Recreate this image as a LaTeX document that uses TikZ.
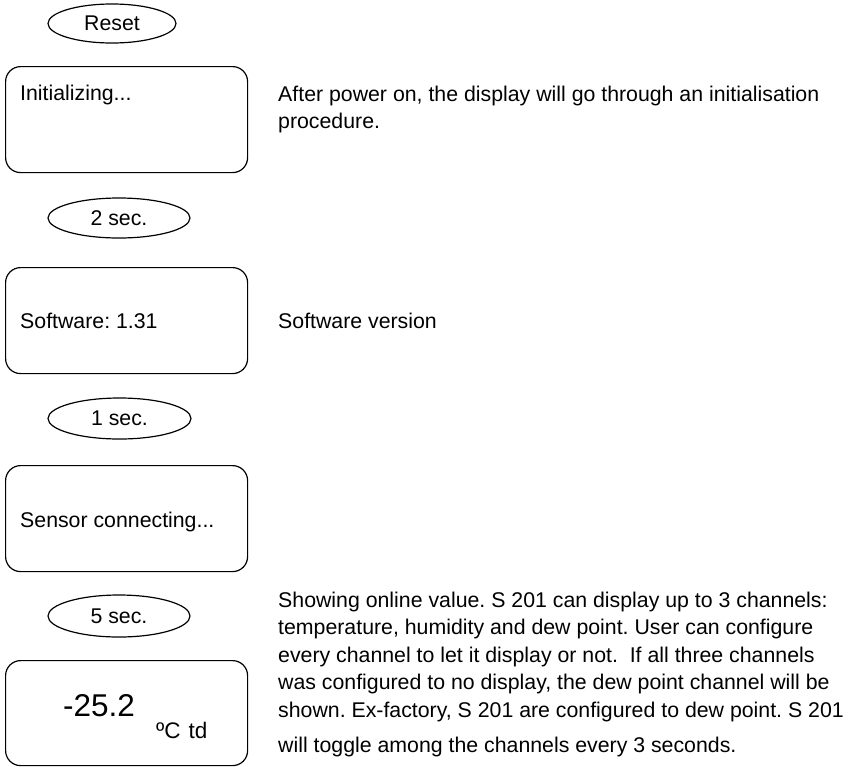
\documentclass[tikz,border=0pt]{standalone}
\usepackage{fontspec}
\setmainfont{Liberation Sans}
\usetikzlibrary{shapes.geometric}
\frenchspacing
\begin{document}
\begin{tikzpicture}[x=1pt,y=-1pt,
  every node/.style={font=\fontsize{21.3pt}{27.5pt}\selectfont\frenchspacing, inner sep=0pt},
  screen/.style={draw, line width=1.2pt, rounded corners=15pt, minimum width=242pt, minimum height=106pt, anchor=north west},
  timer/.style={draw, ellipse, line width=1.2pt, minimum width=142pt, minimum height=40pt},
  lbl/.style={anchor=base west},
  desc/.style={anchor=base west, align=left}]
\useasboundingbox (0,0) rectangle (856,766);

% timer ellipses
\node[timer, minimum width=128pt, minimum height=39pt] (reset) at (112,23.5) {Reset};
\node[timer] (t2) at (119,218) {2 sec.};
\node[timer, minimum width=143pt, minimum height=41pt] (t1) at (119.5,418.5) {1 sec.};
\node[timer, minimum height=42pt] (t5) at (119,616) {5 sec.};

% display screens
\node[screen] (s1) at (5,66) {};
\node[screen] (s2) at (5,267) {};
\node[screen] (s3) at (5,465) {};
\node[screen, minimum height=105pt] (s4) at (5,660) {};

% screen texts
\node[lbl] (s1t) at (20,100) {Initializing...};
\node[lbl] (s2t) at (20,328) {Software: 1.31};
\node[lbl] (s3t) at (20,527) {Sensor connecting...};
\node[lbl, font=\fontsize{31.5pt}{36pt}\selectfont] (s4v) at (63,716) {-25.2};
\node[lbl, font=\fontsize{22.5pt}{27pt}\selectfont] (s4u) at (156,738) {ºC\hspace{8pt}td};

% descriptions (base anchor = baseline of the last line)
\node[desc] (d1) at (278,128.5) {After power on, the display will go through an initialisation\\procedure.};
\node[desc] (d2) at (278,328) {Software version};
\node[desc] (d4) at (278,752) {Showing online value. S 201 can display up to 3 channels:\\temperature, humidity and dew point. User can configure\\every channel to let it display or not.\ \ If all three channels\\was configured to no display, the dew point channel will be\\shown. Ex-factory, S 201 are configured to dew point. S 201\\[7.5pt]will toggle among the channels every 3 seconds.};
\end{tikzpicture}
\end{document}
